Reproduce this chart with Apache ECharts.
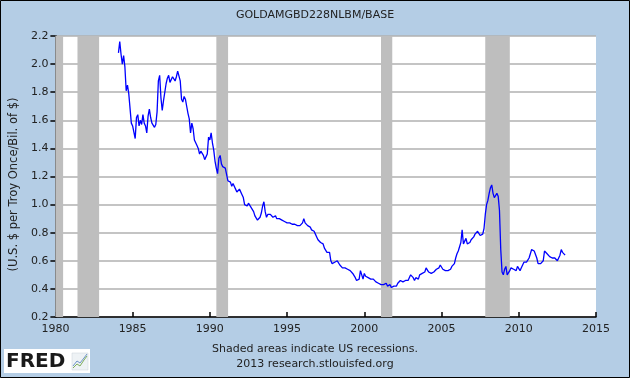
<!DOCTYPE html>
<html><head><meta charset="utf-8">
<script src="https://cdn.jsdelivr.net/npm/echarts@6/dist/echarts.min.js"></script>
<style>html,body{margin:0;padding:0;background:#B4CDE5;}#c{width:630px;height:378px;}</style>
</head><body><div id="c"></div>
<script>
const chartTitle = 'GOLDAMGBD228NLBM/BASE';
const yAxisTitle = '(U.S. $ per Troy Once/Bil. of $)';
const noteLine1 = 'Shaded areas indicate US recessions.';
const noteLine2 = '2013 research.stlouisfed.org';
const firstYear = 1984;
const firstMonth = 2; // February 1984, monthly observations
const ratio1984to1990 = [
  2.08, 2.16, 2.07, 2.00, 2.06, 1.98, 1.81, 1.85, 1.79, 1.80, 1.58,
  1.56, 1.55, 1.47, 1.62, 1.64, 1.56, 1.60, 1.57, 1.64, 1.58, 1.56, 1.51,
  1.63, 1.68, 1.62, 1.58, 1.57, 1.55, 1.57, 1.66, 1.88, 1.92, 1.76, 1.67,
  1.74, 1.73, 1.86, 1.90, 1.92, 1.87, 1.88, 1.91, 1.92, 1.88, 1.91, 1.95,
  1.94, 1.88, 1.75, 1.73, 1.77, 1.75, 1.70, 1.65, 1.61, 1.51, 1.58, 1.54,
  1.46, 1.45, 1.42, 1.40, 1.36, 1.38, 1.37, 1.35, 1.32, 1.33, 1.36, 1.48,
  1.46, 1.51, 1.44, 1.39, 1.31, 1.26, 1.22, 1.33, 1.35, 1.29, 1.27, 1.28
];
const ratio1991to1997 = [
  1.26, 1.25, 1.17, 1.16, 1.16, 1.13, 1.15, 1.16, 1.11, 1.09, 1.10, 1.11,
  1.10, 1.07, 1.05, 1.00, 0.99, 0.99, 1.01, 1.02, 0.98, 0.97, 0.95, 0.92,
  0.91, 0.89, 0.89, 0.91, 0.94, 0.99, 1.02, 0.95, 0.91, 0.93, 0.94, 0.93,
  0.92, 0.91, 0.90, 0.92, 0.90, 0.91, 0.90, 0.89, 0.89, 0.89, 0.88, 0.87,
  0.87, 0.86, 0.87, 0.87, 0.86, 0.87, 0.86, 0.86, 0.85, 0.85, 0.85, 0.85,
  0.87, 0.90, 0.87, 0.86, 0.85, 0.84, 0.84, 0.82, 0.82, 0.81, 0.79, 0.77,
  0.75, 0.74, 0.73, 0.72, 0.72, 0.69, 0.68, 0.66, 0.66, 0.66, 0.60, 0.58
];
const ratio1998to2004 = [
  0.59, 0.59, 0.60, 0.60, 0.59, 0.57, 0.56, 0.55, 0.54, 0.55, 0.55, 0.54,
  0.53, 0.53, 0.52, 0.51, 0.50, 0.48, 0.46, 0.46, 0.47, 0.53, 0.50, 0.47,
  0.51, 0.49, 0.48, 0.48, 0.48, 0.47, 0.47, 0.47, 0.46, 0.45, 0.45, 0.44,
  0.44, 0.43, 0.42, 0.43, 0.42, 0.44, 0.42, 0.42, 0.43, 0.41, 0.42, 0.42,
  0.41, 0.42, 0.44, 0.45, 0.46, 0.45, 0.45, 0.46, 0.46, 0.47, 0.46, 0.47,
  0.50, 0.50, 0.48, 0.46, 0.48, 0.49, 0.47, 0.50, 0.51, 0.51, 0.52, 0.52,
  0.55, 0.54, 0.52, 0.51, 0.51, 0.52, 0.52, 0.53, 0.54, 0.55, 0.55, 0.57
];
const ratio2005to2012 = [
  0.56, 0.54, 0.53, 0.53, 0.54, 0.53, 0.54, 0.54, 0.56, 0.57, 0.58, 0.62,
  0.65, 0.67, 0.68, 0.73, 0.82, 0.72, 0.74, 0.76, 0.72, 0.71, 0.73, 0.75,
  0.76, 0.77, 0.79, 0.80, 0.81, 0.80, 0.78, 0.79, 0.79, 0.83, 0.93, 1.00,
  1.03, 1.08, 1.12, 1.14, 1.08, 1.05, 1.04, 1.08, 1.06, 0.96, 0.68, 0.52,
  0.50, 0.54, 0.56, 0.50, 0.50, 0.53, 0.55, 0.55, 0.54, 0.53, 0.53, 0.56,
  0.55, 0.53, 0.55, 0.56, 0.59, 0.60, 0.59, 0.60, 0.62, 0.65, 0.68, 0.69,
  0.67, 0.66, 0.62, 0.58, 0.59, 0.58, 0.59, 0.60, 0.67, 0.66, 0.65, 0.64,
  0.63, 0.62, 0.62, 0.63, 0.62, 0.61, 0.60, 0.61, 0.64, 0.68, 0.66, 0.65,
  0.64
];
const recessionStarts = [1980.0, 1981.43, 1990.42, 2001.08, 2007.83];
const recessionEnds   = [1980.5, 1982.83, 1991.18, 2001.81, 2009.42];
const xMin = 1980, xMax = 2015, xStep = 5;
const yMin = 0.2, yMax = 2.2, yStep = 0.2;

const allValues = [].concat(ratio1984to1990, ratio1991to1997, ratio1998to2004, ratio2005to2012);
const seriesData = allValues.map((v, i) => [firstYear + (firstMonth - 1 + i) / 12, v]);
const bandData = recessionStarts.map((s, i) => [{xAxis: s}, {xAxis: recessionEnds[i]}]);

const font = 'DejaVu Sans';
const chart = echarts.init(document.getElementById('c'), null, {renderer: 'canvas'});
chart.setOption({
  backgroundColor: '#B4CDE5',
  animation: false,
  textStyle: {fontFamily: font},
  title: {
    text: chartTitle, left: 'center', top: 5,
    textStyle: {fontFamily: font, fontSize: 11, fontWeight: 'normal', color: '#222'}
  },
  grid: {left: 55, right: 34, top: 36, bottom: 61, show: true, backgroundColor: '#ffffff', borderWidth: 0},
  xAxis: {
    type: 'value', min: xMin, max: xMax, interval: xStep,
    axisLine: {show: true, lineStyle: {color: '#000', width: 1.5}},
    axisTick: {show: true, inside: true, length: 5, lineStyle: {color: '#000', width: 1.5}},
    axisLabel: {color: '#222', fontSize: 11, fontFamily: font, margin: 7, formatter: v => String(Math.round(v))},
    splitLine: {show: false}
  },
  yAxis: {
    type: 'value', min: yMin, max: yMax, interval: yStep,
    name: yAxisTitle, nameLocation: 'middle', nameGap: 33, nameRotate: 90,
    nameTextStyle: {color: '#222', fontSize: 11.5, fontFamily: font, padding: [0, 16, 0, 0]},
    axisLine: {show: true, onZero: false, lineStyle: {color: '#000', width: 1.5}},
    axisTick: {show: true, length: 5, lineStyle: {color: '#000', width: 1.5}},
    axisLabel: {color: '#222', fontSize: 11, fontFamily: font, margin: 7, formatter: v => v.toFixed(1)},
    splitLine: {show: true, lineStyle: {color: '#B0B0B0', width: 1.5}}
  },
  series: [
    {
      type: 'line', data: [], z: 1, silent: true,
      markArea: {silent: true, itemStyle: {color: '#BEBEBE', opacity: 1}, data: bandData}
    },
    {
      type: 'line', data: seriesData, z: 5, showSymbol: false, symbol: 'none',
      lineStyle: {color: '#0000FF', width: 1.3}, itemStyle: {color: '#0000FF'}
    }
  ],
  graphic: [
    {type: 'text', left: 'center', top: 344, style: {text: noteLine1, font: '11px "DejaVu Sans"', fill: '#222', x: 6}},
    {type: 'text', left: 'center', top: 359, style: {text: noteLine2, font: '11px "DejaVu Sans"', fill: '#222'}},
    {type: 'rect', shape: {x: 4, y: 349, width: 86, height: 24}, style: {fill: '#ffffff'}},
    {type: 'text', x: 6, y: 352, style: {text: 'FRED', font: 'bold 20px "DejaVu Sans"', fill: '#1a1a1a'}},
    {type: 'rect', shape: {x: 72, y: 353, width: 16, height: 17}, style: {fill: '#EEF2F5', stroke: '#C8D0D8', lineWidth: 0.5}},
    {type: 'polyline', shape: {points: [[73, 368], [77, 364], [80, 366], [84, 360], [87, 356]]}, style: {stroke: '#7FAE5A', lineWidth: 1, fill: null}},
    {type: 'polyline', shape: {points: [[73, 366], [77, 361], [80, 363], [84, 358], [87, 354]]}, style: {stroke: '#6E93C7', lineWidth: 1, fill: null}},
    {type: 'rect', shape: {x: 0.5, y: 0.5, width: 629, height: 377}, style: {fill: null, stroke: '#000', lineWidth: 1}}
  ]
});
</script></body></html>
